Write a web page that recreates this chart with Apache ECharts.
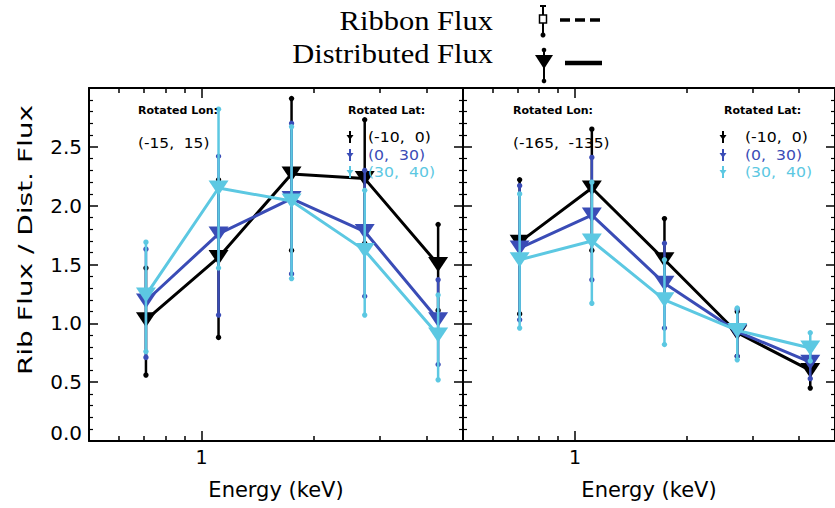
<!DOCTYPE html>
<html><head><meta charset="utf-8">
<script src="https://cdn.jsdelivr.net/npm/echarts@6/dist/echarts.min.js"></script>
<style>html,body{margin:0;padding:0;background:#fff}#c{width:835px;height:508px}</style>
</head><body><div id="c"></div>
<script>
// ---- data ----
const energies = [0.71, 1.11, 1.74, 2.73, 4.29];
const latNames = ['(-10,  0)', '(0,  30)', '(30,  40)'];
const lonNames = ['(-15,  15)', '(-165,  -135)'];
const xMinorTicks = [0.6, 0.7, 0.8, 0.9, 2, 3, 4];
const xMajorTicks = [1];

// left panel: Rotated Lon (-15, 15)
const leftBlack = [1.03, 1.56, 2.27, 2.23, 1.50];
const leftBlue  = [1.19, 1.76, 2.06, 1.78, 1.03];
const leftCyan  = [1.24, 2.15, 2.04, 1.62, 0.90];
const leftBlackLo = [0.56, 0.88, 1.62, 1.68, 1.11];
const leftBlackHi = [1.47, 2.22, 2.91, 2.73, 1.84];
const leftBlueLo  = [0.71, 1.07, 1.42, 1.23, 0.65];
const leftBlueHi  = [1.63, 2.42, 2.70, 2.30, 1.37];
const leftCyanLo  = [0.76, 1.47, 1.38, 1.07, 0.52];
const leftCyanHi  = [1.69, 2.82, 2.67, 2.13, 1.24];

// right panel: Rotated Lon (-165, -135)
const rightBlack = [1.69, 2.15, 1.54, 0.92, 0.60];
const rightBlue  = [1.64, 1.92, 1.34, 0.93, 0.67];
const rightCyan  = [1.54, 1.70, 1.20, 0.94, 0.79];
const rightBlackLo = [1.08, 1.62, 1.20, 0.72, 0.45];
const rightBlackHi = [2.22, 2.65, 1.89, 1.10, 0.70];
const rightBlueLo  = [1.03, 1.37, 0.96, 0.72, 0.53];
const rightBlueHi  = [2.17, 2.41, 1.68, 1.12, 0.80];
const rightCyanLo  = [0.96, 1.17, 0.82, 0.69, 0.68];
const rightCyanHi  = [2.10, 2.20, 1.54, 1.13, 0.92];

// ---- chart ----
const colors = ['#000000', '#3a4cb6', '#5cc8e2'];
const FONT = 'DejaVu Sans';
const panels = [
  {vals:[leftBlack,leftBlue,leftCyan], lo:[leftBlackLo,leftBlueLo,leftCyanLo], hi:[leftBlackHi,leftBlueHi,leftCyanHi]},
  {vals:[rightBlack,rightBlue,rightCyan], lo:[rightBlackLo,rightBlueLo,rightCyanLo], hi:[rightBlackHi,rightBlueHi,rightCyanHi]}
];
const grids = [
  {left:89, top:88, width:374, height:353},
  {left:463, top:88, width:374, height:353}
];

const xAxis = [];
grids.forEach((g, gi) => {
  const base = {gridIndex:gi, type:'log', logBase:10, min:0.5, max:5, splitLine:{show:false}};
  ['bottom','top'].forEach(pos => {
    xAxis.push(Object.assign({}, base, {
      position:pos,
      axisLine:{show:true, onZero:false, lineStyle:{color:'#000', width:2}},
      axisTick:{show:true, inside:true, length:5, customValues:xMinorTicks, lineStyle:{color:'#000', width:1.5}},
      axisLabel:{show:false}
    }));
    const major = Object.assign({}, base, {
      position:pos,
      axisLine:{show:false, onZero:false},
      axisTick:{show:true, inside:true, length:10, customValues:xMajorTicks, lineStyle:{color:'#000', width:1.5}},
      axisLabel:{show:pos==='bottom', customValues:xMajorTicks, formatter:v=>String(Math.round(v)), fontSize:19, fontFamily:FONT, color:'#000', margin:6}
    });
    if (pos === 'bottom') {
      major.name = 'Energy (keV)';
      major.nameLocation = 'middle';
      major.nameGap = 38;
      major.nameTextStyle = {fontSize:21, fontFamily:FONT, color:'#000'};
    }
    xAxis.push(major);
  });
});

const yAxis = [];
grids.forEach((g, gi) => {
  ['left','right'].forEach(pos => {
    const withLabels = gi === 0 && pos === 'left';
    yAxis.push({
      gridIndex:gi, type:'value', min:0, max:3, interval:0.5, position:pos,
      axisLine:{show:true, onZero:false, lineStyle:{color:'#000', width:2}},
      axisTick:{show:true, inside:true, length:9, lineStyle:{color:'#000', width:1.5}},
      minorTick:{show:true, splitNumber:5, length:4, lineStyle:{color:'#000', width:1.2}},
      splitLine:{show:false}, minorSplitLine:{show:false},
      axisLabel:{show:withLabels,
        formatter:v => v >= 3 ? '' : (v === 0 ? '{z|0.0}' : v.toFixed(1)),
        rich:{z:{fontSize:20, fontFamily:FONT, color:'#000', padding:[0,0,16,0]}},
        fontSize:20, fontFamily:FONT, color:'#000', margin:7}
    });
  });
});

function errSeries(gi, lo, hi, color, z) {
  return {
    type:'custom', xAxisIndex:gi*4, yAxisIndex:gi*2, z:z, silent:true,
    data: energies.map((e, i) => [e, lo[i], hi[i]]),
    encode:{x:0, y:[1,2]},
    renderItem: (params, api) => {
      const x = api.value(0);
      const a = api.coord([x, api.value(1)]);
      const b = api.coord([x, api.value(2)]);
      return {type:'group', children:[
        {type:'line', shape:{x1:a[0], y1:a[1], x2:b[0], y2:b[1]}, style:{stroke:color, lineWidth:2.5}},
        {type:'circle', shape:{cx:a[0], cy:a[1], r:2.7}, style:{fill:color}},
        {type:'circle', shape:{cx:b[0], cy:b[1], r:2.7}, style:{fill:color}}
      ]};
    }
  };
}

const series = [];
panels.forEach((p, gi) => {
  p.vals.forEach((vals, si) => {
    series.push(errSeries(gi, p.lo[si], p.hi[si], colors[si], 2 + si*2));
    series.push({
      type:'line', name:latNames[si], xAxisIndex:gi*4, yAxisIndex:gi*2, z:3 + si*2,
      data: energies.map((e, i) => [e, vals[i]]),
      symbol:'triangle', symbolRotate:180, symbolSize:[20,15], showSymbol:true,
      lineStyle:{color:colors[si], width:3}, itemStyle:{color:colors[si]},
      emphasis:{disabled:true}
    });
  });
});

// annotations
const graphic = [];
function txt(x, y, text, font, opts) {
  graphic.push(Object.assign({type:'text', x:x, y:y, z:100,
    style:Object.assign({text:text, fill:'#000', font:font, textVerticalAlign:'middle'}, (opts && opts.style) || {})},
    (opts && opts.el) || {}));
}
// y axis title
txt(25, 240, 'Rib Flux / Dist. Flux', '20px "DejaVu Sans"', {style:{textAlign:'center'}, el:{rotation:Math.PI/2, scaleX:1.4}});

const panelText = [
  {lonX:138, latX:348, keyX:350, entryX:368},
  {lonX:513, latX:724, keyX:723, entryX:745}
];
panelText.forEach((pt, gi) => {
  txt(pt.lonX, 110, 'Rotated Lon:', 'bold 11px "DejaVu Sans"');
  txt(pt.lonX, 143, lonNames[gi], '14px "DejaVu Sans"', {el:{scaleX:1.1}});
  txt(pt.latX, 110, 'Rotated Lat:', 'bold 11px "DejaVu Sans"');
  [137, 155, 172].forEach((yy, si) => {
    txt(pt.entryX, yy, latNames[si], '14px "DejaVu Sans"', {style:{fill:colors[si]}, el:{scaleX:1.12}});
    graphic.push({type:'line', z:100, shape:{x1:pt.keyX, y1:yy-6, x2:pt.keyX, y2:yy+6}, style:{stroke:colors[si], lineWidth:2}});
    graphic.push({type:'polygon', z:100, shape:{points:[[pt.keyX-3.5, yy-2],[pt.keyX+3.5, yy-2],[pt.keyX, yy+3]]}, style:{fill:colors[si]}});
  });
});

// top legend
txt(493, 21, 'Ribbon Flux', '27px "Liberation Serif"', {style:{textAlign:'right'}, el:{scaleX:1.13}});
txt(493, 54, 'Distributed Flux', '27px "Liberation Serif"', {style:{textAlign:'right'}, el:{scaleX:1.13}});
graphic.push({type:'line', z:100, shape:{x1:543, y1:6, x2:543, y2:36}, style:{stroke:'#000', lineWidth:2}});
graphic.push({type:'line', z:100, shape:{x1:540, y1:6, x2:546, y2:6}, style:{stroke:'#000', lineWidth:2}});
graphic.push({type:'circle', z:100, shape:{cx:543, cy:35, r:2.5}, style:{fill:'#000'}});
graphic.push({type:'rect', z:101, shape:{x:539.5, y:15, width:7, height:8}, style:{fill:'#fff', stroke:'#000', lineWidth:1.5}});
[560, 575, 590].forEach(x0 => {
  graphic.push({type:'line', z:100, shape:{x1:x0, y1:20, x2:x0+10, y2:20}, style:{stroke:'#000', lineWidth:3.5}});
});
graphic.push({type:'line', z:100, shape:{x1:544, y1:50, x2:544, y2:82}, style:{stroke:'#000', lineWidth:2}});
graphic.push({type:'circle', z:100, shape:{cx:544, cy:50, r:2.3}, style:{fill:'#000'}});
graphic.push({type:'circle', z:100, shape:{cx:544, cy:81, r:2.3}, style:{fill:'#000'}});
graphic.push({type:'polygon', z:100, shape:{points:[[535,55],[553,55],[544,69]]}, style:{fill:'#000'}});
graphic.push({type:'line', z:100, shape:{x1:565, y1:63, x2:602, y2:63}, style:{stroke:'#000', lineWidth:4.5}});

const chart = echarts.init(document.getElementById('c'), null, {renderer:'svg'});
chart.setOption({
  animation:false,
  backgroundColor:'#fff',
  grid:grids,
  xAxis:xAxis,
  yAxis:yAxis,
  series:series,
  graphic:graphic
});
</script>
</body></html>
